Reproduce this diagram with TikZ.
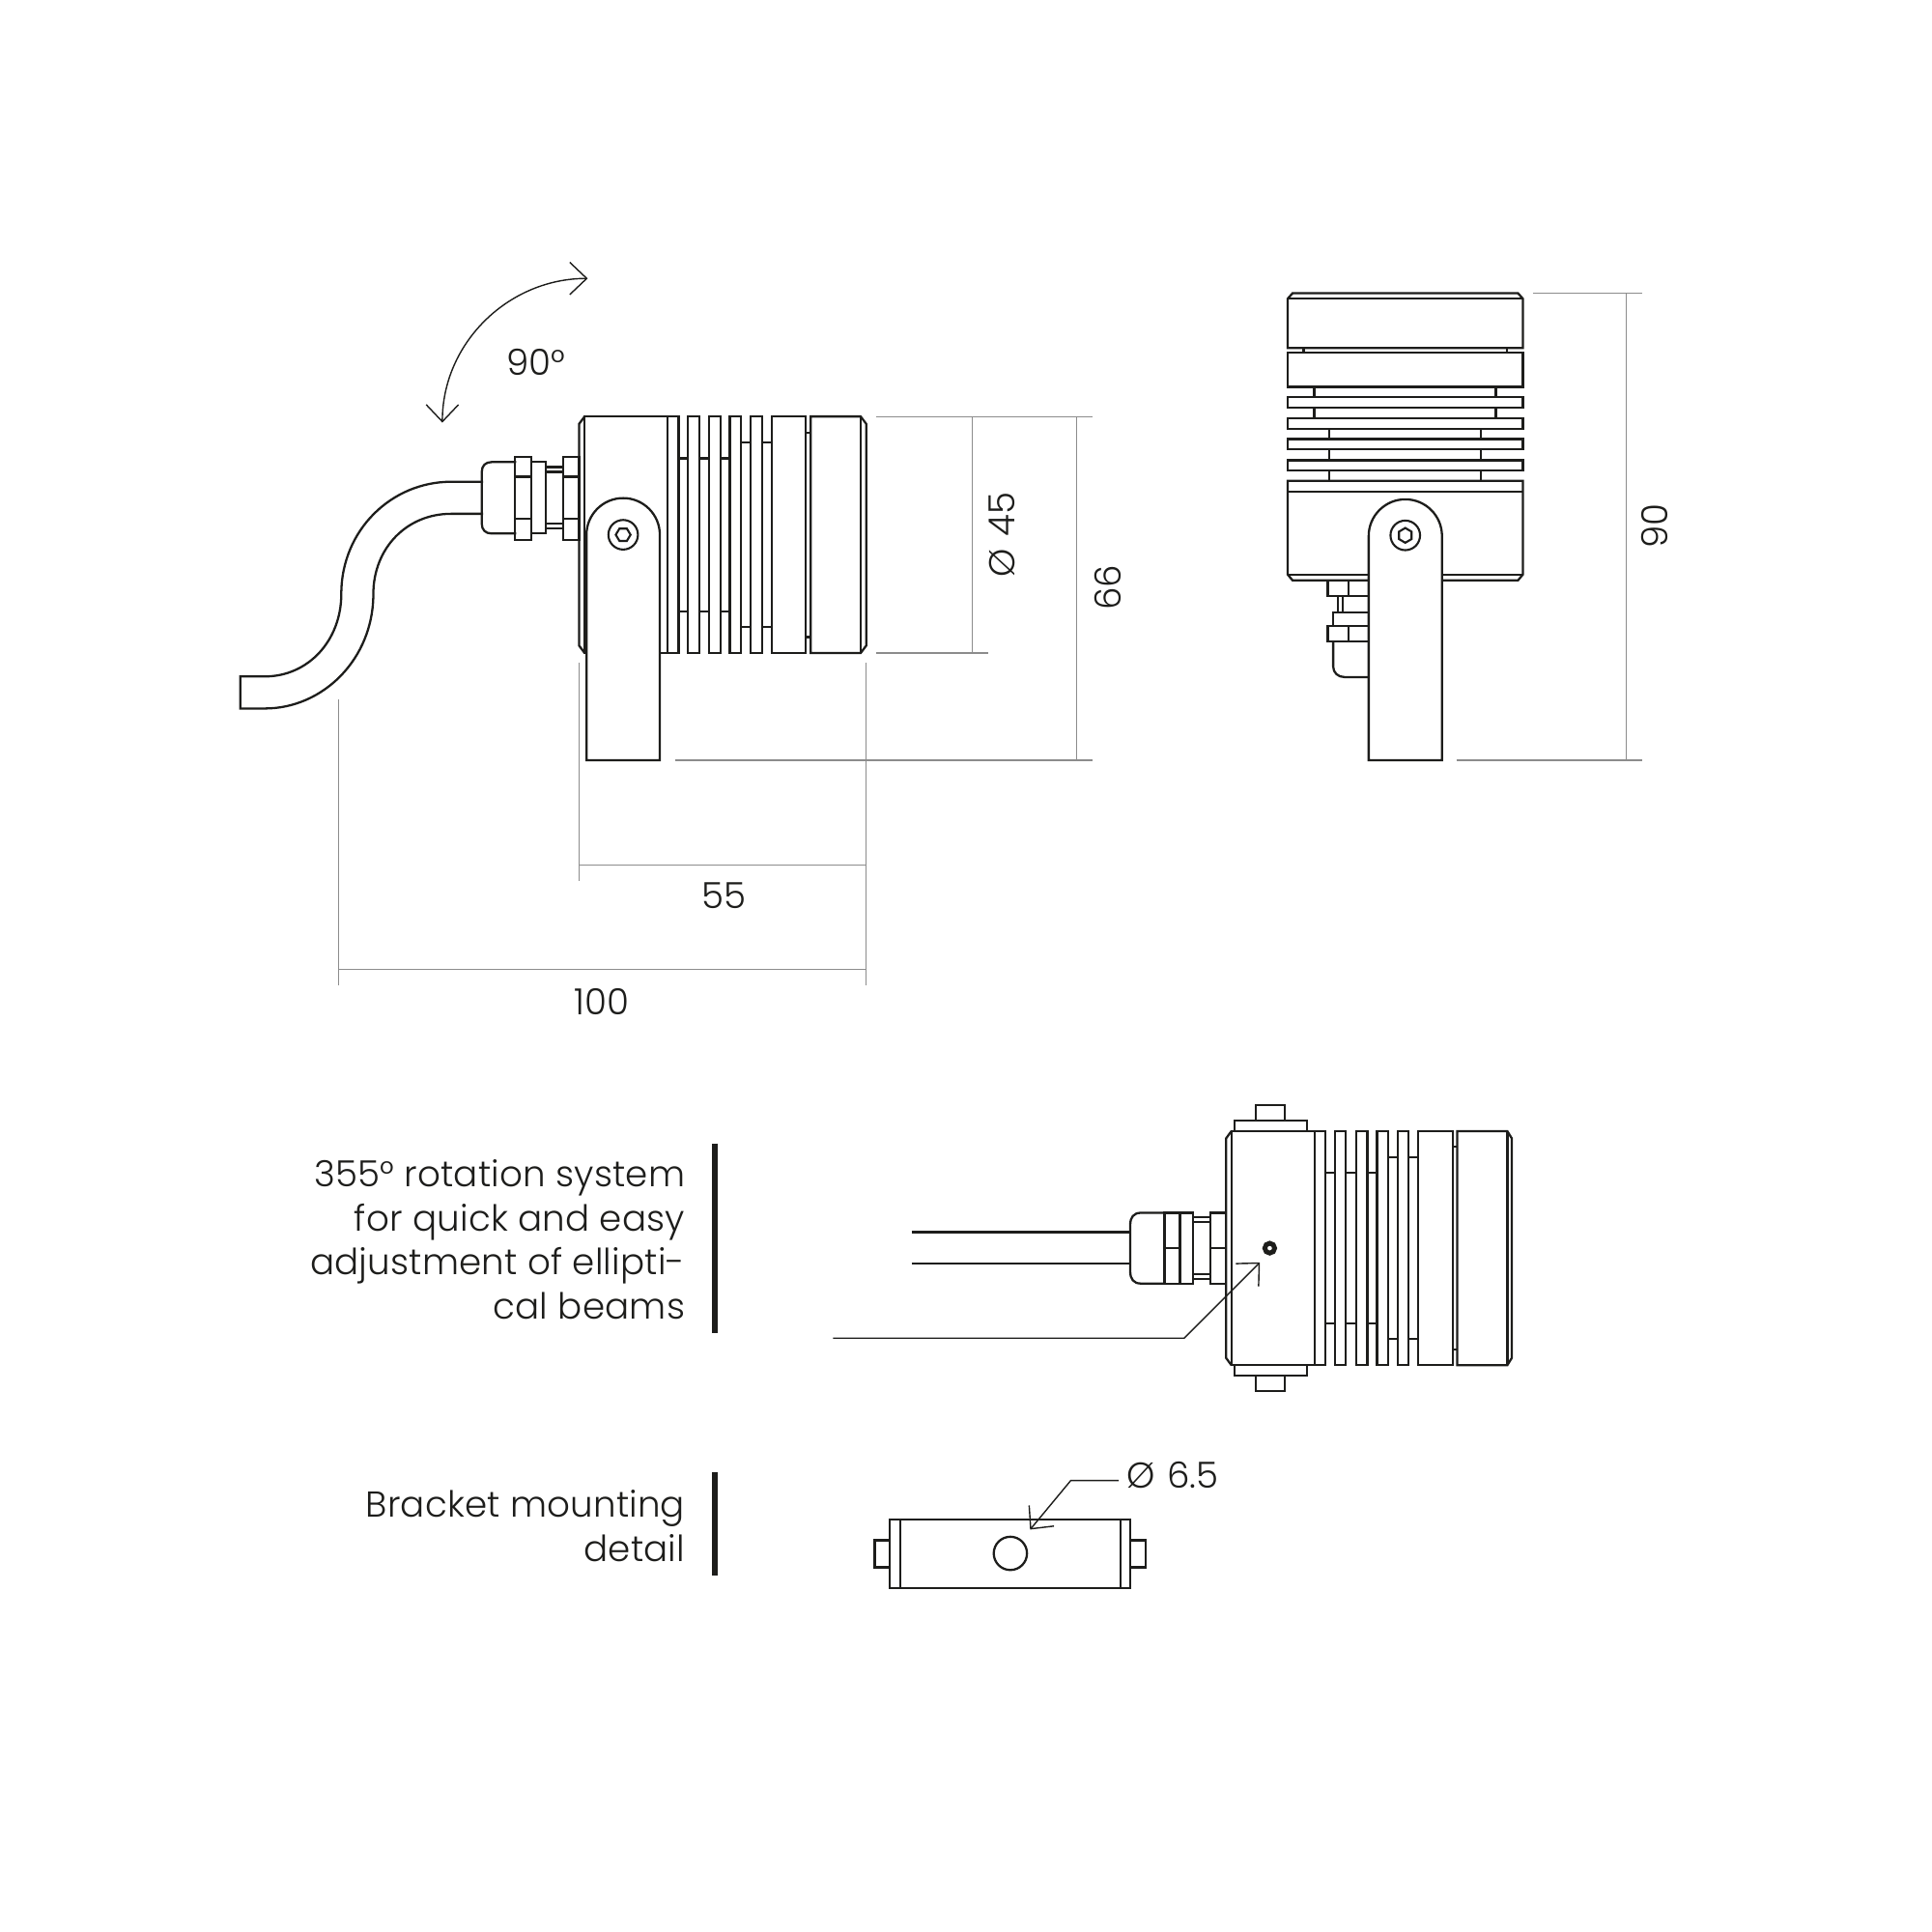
\documentclass[tikz,border=0pt]{standalone}
\usepackage{fontspec}
\setmainfont{Poppins Light}[LetterSpace=0.5]
\usetikzlibrary{arrows.meta}
\definecolor{inkline}{HTML}{1d1d1b}
\definecolor{dimline}{HTML}{8c8c8c}
\tikzstyle{part} = [draw=inkline,line width=0.65pt,line join=miter]
\tikzstyle{partfill} = [part,fill=white]
\tikzstyle{thinpart} = [draw=inkline,line width=0.6pt]
\tikzstyle{dim} = [draw=dimline,line width=0.35pt]
\tikzstyle{sidebar} = [draw=inkline,line width=1.6pt]
\tikzstyle{arrow} = [draw=inkline,line width=0.4pt,->,>={Straight Barb[length=5pt,width=9.5pt]}]
\tikzstyle{label} = [inner sep=0pt,text=inkline,font=\fontsize{10.6}{13}\selectfont]
\tikzstyle{note} = [label,align=right,anchor=north east]
\begin{document}
\begin{tikzpicture}[x=0.012755cm,y=-0.012755cm]
\useasboundingbox (0,0) rectangle (1568,1568);

% side view: dimension lines
\draw [dim] (711,338) -- (887,338);
\draw [dim] (711,530) -- (802,530);
\draw [dim] (789,338) -- (789,530);
\draw [dim] (874,338) -- (874,617);
\draw [dim] (548,617) -- (887,617);
\draw [dim] (470,538) -- (470,715);
\draw [dim] (703,538) -- (703,800);
\draw [dim] (470,702) -- (703,702);
\draw [dim] (275,568) -- (275,800);
\draw [dim] (275,787) -- (703,787);
\node (d45) [label,rotate=90] at (813,434) {Ø\,\,45};
\node (d66) [label,rotate=90] at (899,477) {66};
\node (d55) [label] at (587.5,727) {55};
\node (d100) [label] at (488.5,813) {100};
\node (angle) [label] at (435,294) {90°};
\coordinate (swingA) at (359,343);
\coordinate (swingB) at (477,226);
\draw [arrow,<->] (swingA) .. controls (359,278) and (413,226) .. (swingB);

% side view: cable and gland
\draw [part] (392,391) -- (366,391) .. controls (318,391) and (277,430) .. (277,482) .. controls (277,520) and (250,549) .. (215,549) -- (195,549) -- (195,575) -- (215,575) .. controls (262,575) and (303,535) .. (303,482) .. controls (303,445) and (330,417) .. (366,417) -- (392,417);
\draw [part] (419,375) -- (399,375) .. controls (394,375) and (391,378) .. (391,383) -- (391,425) .. controls (391,430) and (394,433) .. (399,433) -- (419,433);
\draw [part] (418,371) rectangle (431,438);
\draw [part] (418,387) -- (431,387) (418,421) -- (431,421);
\draw [part] (431,375) rectangle (443,433);
\draw [part] (443,379) -- (457,379) (443,383) -- (457,383) (443,425) -- (457,425) (443,429) -- (457,429);
\draw [part] (457,371) rectangle (470,438);
\draw [part] (457,387) -- (470,387) (457,421) -- (470,421);

% side view: body and fins
\draw [part] (474.5,338) -- (470,344) -- (470,524) -- (474.5,530);
\draw [part] (474.5,338) rectangle (541.8,530);
\foreach \xa/\xb in {541.8/550.8,558.4/567.5,575.7/584.8,592.4/601.4,609.4/618.4,626.4/654.1}
  \draw [part] (\xa,338) rectangle (\xb,530);
\draw [part] (657.9,338) -- (698.5,338) -- (703,344) -- (703,524) -- (698.5,530) -- (657.9,530) -- cycle;
\draw [part] (698.5,338) -- (698.5,530);
\foreach \xa/\xb/\ya/\yb in {550.8/558.4/372/496,567.5/575.7/372/496,584.8/592.4/372/496,601.4/609.4/359/509,618.4/626.4/359/509,654.1/657.9/351/517}
  \draw [part] (\xa,\ya) -- (\xb,\ya) (\xa,\yb) -- (\xb,\yb);

% side view: bracket
\draw [partfill] (476,617) -- (476,434) arc[start angle=180,end angle=360,radius=29.75] -- (535.5,617) -- cycle;
\draw [thinpart] (505.75,434) circle[radius=12];
\draw [thinpart] (499.75,434) -- (502.75,429) -- (508.75,429) -- (511.75,434) -- (508.75,439) -- (502.75,439) -- cycle;

% front view: dimension
\draw [dim] (1244,238) -- (1333,238);
\draw [dim] (1182,617) -- (1333,617);
\draw [dim] (1320,238) -- (1320,617);
\node (d90) [label,rotate=90] at (1343,427) {90};

% front view: head and fins
\draw [part] (1045,242.5) -- (1049,238) -- (1232,238) -- (1236,242.5) -- (1236,282.5) -- (1045,282.5) -- cycle;
\draw [part] (1045,242.5) -- (1236,242.5);
\foreach \ya/\yb in {286.2/314,322.4/330.6,339.4/347.9,356.3/364.8,373.5/382}
  \draw [part] (1045,\ya) rectangle (1236,\yb);
\draw [part] (1045,390.2) -- (1236,390.2) -- (1236,466.2) -- (1232,471) -- (1049,471) -- (1045,466.2) -- cycle;
\draw [part] (1045,399.2) -- (1236,399.2) (1045,466.2) -- (1236,466.2);
\foreach \xa/\xb/\ya/\yb in {1058/1223/282.5/286.2,1066.7/1214/314/322.4,1066.7/1214/330.6/339.4,1079/1202/347.9/356.3,1079/1202/364.8/373.5,1079/1202/382/390.2}
  \draw [part] (\xa,\ya) -- (\xa,\yb) (\xb,\ya) -- (\xb,\yb);

% front view: gland behind the bracket
\draw [part] (1077.6,471) rectangle (1110.8,483.5);
\draw [part] (1094.3,471) -- (1094.3,483.5);
\draw [part] (1085.7,483.5) -- (1085.7,497) (1090,483.5) -- (1090,497);
\draw [part] (1082,497) rectangle (1110.8,508);
\draw [part] (1077.6,508) rectangle (1110.8,520.8);
\draw [part] (1094.3,508) -- (1094.3,520.8);
\draw [part] (1082,520.8) -- (1082,541) .. controls (1082,546) and (1086,549.5) .. (1091,549.5) -- (1110.8,549.5);

% front view: bracket
\draw [partfill] (1110.8,617) -- (1110.8,435) arc[start angle=180,end angle=360,radius=29.75] -- (1170.3,617) -- cycle;
\draw [thinpart] (1140.5,434.5) circle[radius=12];
\draw [thinpart] (1140.5,428.5) -- (1145.6,431.5) -- (1145.6,437.5) -- (1140.5,440.5) -- (1135.4,437.5) -- (1135.4,431.5) -- cycle;

% top view: cable and gland
\draw [part] (740,1000) -- (917,1000) (740,1025.5) -- (917,1025.5);
\draw [part] (945,984.3) -- (926,984.3) .. controls (920,984.3) and (917.3,988) .. (917.3,994) -- (917.3,1032) .. controls (917.3,1038) and (920,1041.7) .. (926,1041.7) -- (945,1041.7);
\draw [part] (945,984.3) rectangle (957.6,1041.7);
\draw [part] (957.6,984.3) rectangle (968,1041.7);
\draw [part] (945,1013) -- (957.6,1013);
\draw [part] (968,987.7) -- (982.4,987.7) (968,991.6) -- (982.4,991.6) (968,1034) -- (982.4,1034) (968,1037.8) -- (982.4,1037.8);
\draw [part] (982.4,984.3) rectangle (995,1041.7);
\draw [part] (982.4,1013) -- (995,1013);

% top view: body and fins
\draw [part] (1001.7,909.6) rectangle (1060.9,918);
\draw [part] (1019.4,909.6) -- (1019.4,896.9) -- (1042.7,896.9) -- (1042.7,909.6);
\draw [part] (1001.7,1108) rectangle (1060.9,1116.6);
\draw [part] (1019.4,1116.6) -- (1019.4,1129) -- (1042.7,1129) -- (1042.7,1116.6);
\draw [part] (999.4,918) -- (995,924) -- (995,1102) -- (999.4,1108);
\draw [part] (999.4,918) rectangle (1067,1108);
\foreach \xa/\xb in {1067/1075.7,1083.4/1092.3,1100.5/1109.7,1117.5/1126.4,1134.5/1143,1151/1179.3}
  \draw [part] (\xa,918) rectangle (\xb,1108);
\draw [part] (1182.6,918) -- (1223.3,918) -- (1227,924) -- (1227,1102) -- (1223.3,1108) -- (1182.6,1108) -- cycle;
\draw [part] (1223.3,918) -- (1223.3,1108);
\foreach \xa/\xb/\ya/\yb in {1075.7/1083.4/951.7/1074,1092.3/1100.5/951.7/1074,1109.7/1117.5/951.7/1074,1126.4/1134.5/939/1086.6,1143/1151/939/1086.6,1179.3/1182.6/930.8/1095}
  \draw [part] (\xa,\ya) -- (\xb,\ya) (\xa,\yb) -- (\xb,\yb);
\draw [draw=inkline,line width=1.4pt] (1030.5,1013) circle[radius=4];
\coordinate (dotTail) at (676,1086);
\coordinate (dotBend) at (961,1086);
\coordinate (dotTip) at (1022.5,1024.5);
\draw [arrow] (dotTail) -- (dotBend) -- (dotTip);

% captions
\node (rotnote) [note] at (556.5,940.5) {355° rotation system\\for quick and easy\\adjustment of ellipti-\\cal beams};
\draw [sidebar] (580,928) -- (580,1082);
\node (mountnote) [note] at (556.5,1209) {Bracket mounting\\detail};
\draw [sidebar] (580,1195) -- (580,1279);

% bracket detail
\draw [part] (722,1250) -- (710,1250) -- (710,1272) -- (722,1272);
\draw [part] (917.5,1250) -- (930,1250) -- (930,1272) -- (917.5,1272);
\draw [part] (722,1233) rectangle (917.5,1289);
\draw [part] (730.4,1233) -- (730.4,1289) (909.3,1233) -- (909.3,1289);
\draw [part] (820,1260.7) circle[radius=13.5];
\node (d65) [label,anchor=west] at (914,1197) {Ø\,\,6.5};
\coordinate (holeTail) at (908,1201.6);
\coordinate (holeBend) at (869,1201.6);
\coordinate (holeTip) at (836,1241.4);
\draw [arrow] (holeTail) -- (holeBend) -- (holeTip);
\end{tikzpicture}
\end{document}
